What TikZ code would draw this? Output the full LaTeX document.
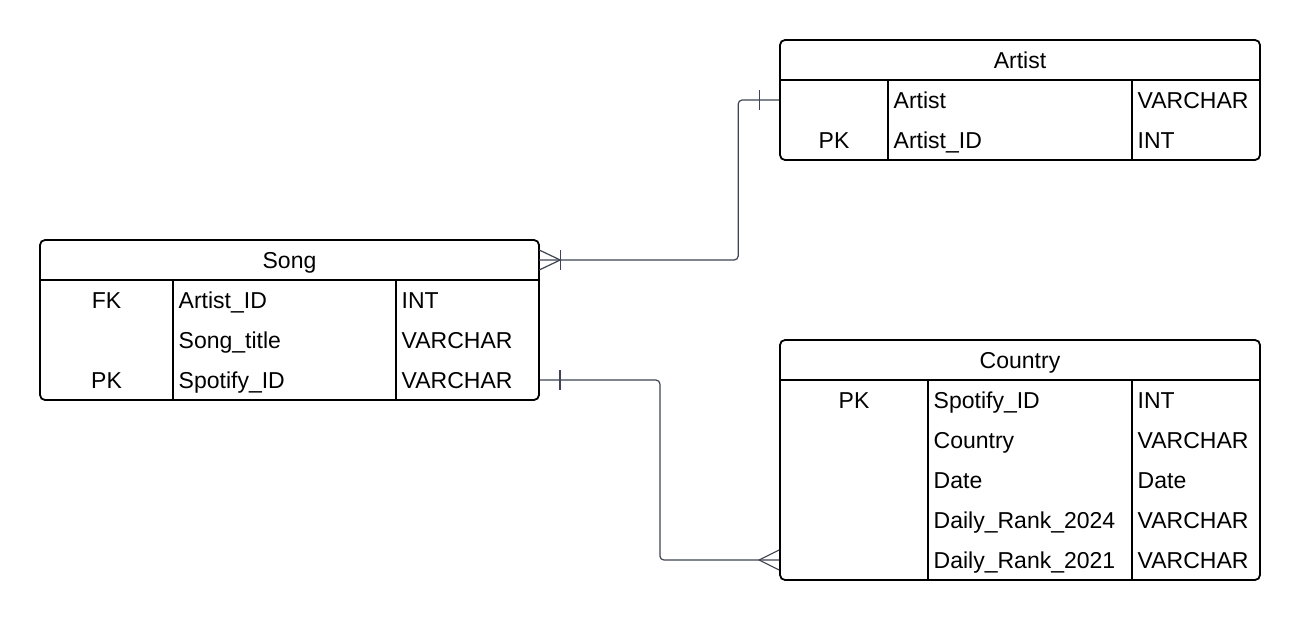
\documentclass[tikz,border=0pt]{standalone}
\usepackage{fontspec}
\setmainfont{Liberation Sans}
\definecolor{relgray}{RGB}{62,68,82}

\begin{document}
\begin{tikzpicture}[x=1pt,y=-1pt,
        tbl/.style={draw=black,line width=1.8pt,rounded corners=5pt,inner sep=0pt},
        rule/.style={draw=black,line width=1.8pt},
        txt/.style={inner sep=0pt,text height=16.5pt,text depth=0pt,font=\fontsize{23}{28}\selectfont},
        hdr/.style={txt,minimum height=40pt},
        rel/.style={draw=relgray,line width=1.2pt,rounded corners=4pt},
        relmark/.style={draw=relgray,line width=1.2pt}]
        \useasboundingbox (0,0) rectangle (1300,620);
        % Song
        \node[tbl,minimum width=499pt,minimum height=160pt] (song) at (289.5,320) {};
        \node[hdr,minimum width=499pt] (songhdr) at (289.5,260) {Song};
        \draw[rule] (songhdr.south west) -- (songhdr.south east);
        \draw[rule] (173,280) -- (173,400);
        \draw[rule] (396,280) -- (396,400);
        \node[txt] (songfk) at (106.5,300) {FK};
        \node[txt] (songpk) at (106.5,380) {PK};
        \node[txt,anchor=west] (sartist) at (178.5,300) {Artist\_ID};
        \node[txt,anchor=west] (stitle) at (178.5,340) {Song\_title};
        \node[txt,anchor=west] (sspot) at (178.5,380) {Spotify\_ID};
        \node[txt,anchor=west] (sartisttype) at (401.5,300) {INT};
        \node[txt,anchor=west] (stitletype) at (401.5,340) {VARCHAR};
        \node[txt,anchor=west] (sspottype) at (401.5,380) {VARCHAR};
        % Artist
        \node[tbl,minimum width=480pt,minimum height=120pt] (artist) at (1020,100) {};
        \node[hdr,minimum width=480pt] (artisthdr) at (1020,60) {Artist};
        \draw[rule] (artisthdr.south west) -- (artisthdr.south east);
        \draw[rule] (888,80) -- (888,160);
        \draw[rule] (1132,80) -- (1132,160);
        \node[txt] (artistpk) at (834,140) {PK};
        \node[txt,anchor=west] (aname) at (893.5,100) {Artist};
        \node[txt,anchor=west] (aid) at (893.5,140) {Artist\_ID};
        \node[txt,anchor=west] (anametype) at (1137.5,100) {VARCHAR};
        \node[txt,anchor=west] (aidtype) at (1137.5,140) {INT};
        % Country
        \node[tbl,minimum width=480pt,minimum height=240pt] (country) at (1020,460) {};
        \node[hdr,minimum width=480pt] (countryhdr) at (1020,360) {Country};
        \draw[rule] (countryhdr.south west) -- (countryhdr.south east);
        \draw[rule] (928,380) -- (928,580);
        \draw[rule] (1132,380) -- (1132,580);
        \node[txt] (countrypk) at (854,400) {PK};
        \node[txt,anchor=west] (cspot) at (933.5,400) {Spotify\_ID};
        \node[txt,anchor=west] (cname) at (933.5,440) {Country};
        \node[txt,anchor=west] (cdate) at (933.5,480) {Date};
        \node[txt,anchor=west] (crank24) at (933.5,520) {Daily\_Rank\_2024};
        \node[txt,anchor=west] (crank21) at (933.5,560) {Daily\_Rank\_2021};
        \node[txt,anchor=west] (cspottype) at (1137.5,400) {INT};
        \node[txt,anchor=west] (cnametype) at (1137.5,440) {VARCHAR};
        \node[txt,anchor=west] (cdatetype) at (1137.5,480) {Date};
        \node[txt,anchor=west] (crank24type) at (1137.5,520) {VARCHAR};
        \node[txt,anchor=west] (crank21type) at (1137.5,560) {VARCHAR};
        % Song -- Artist
        \draw[rel] (songhdr.east) -- ++(199,0) |- (artist.west |- aname);
        \draw[relmark] (songhdr.east) ++(0,-10) -- ++(21,10) -- ++(-21,10);
        \draw[relmark] (songhdr.east) ++(21,-10) -- ++(0,20);
        \draw[relmark] (artist.west |- aname) ++(-20,-10) -- ++(0,20);
        % Song -- Country
        \draw[rel] (song.east |- sspot) -- ++(120,0) |- (country.west |- crank21);
        \draw[relmark] (song.east |- sspot) ++(20,-10) -- ++(0,20);
        \draw[relmark] (country.west |- crank21) ++(0,-10) -- ++(-20,10) -- ++(20,10);
        \end{tikzpicture}
\end{document}
